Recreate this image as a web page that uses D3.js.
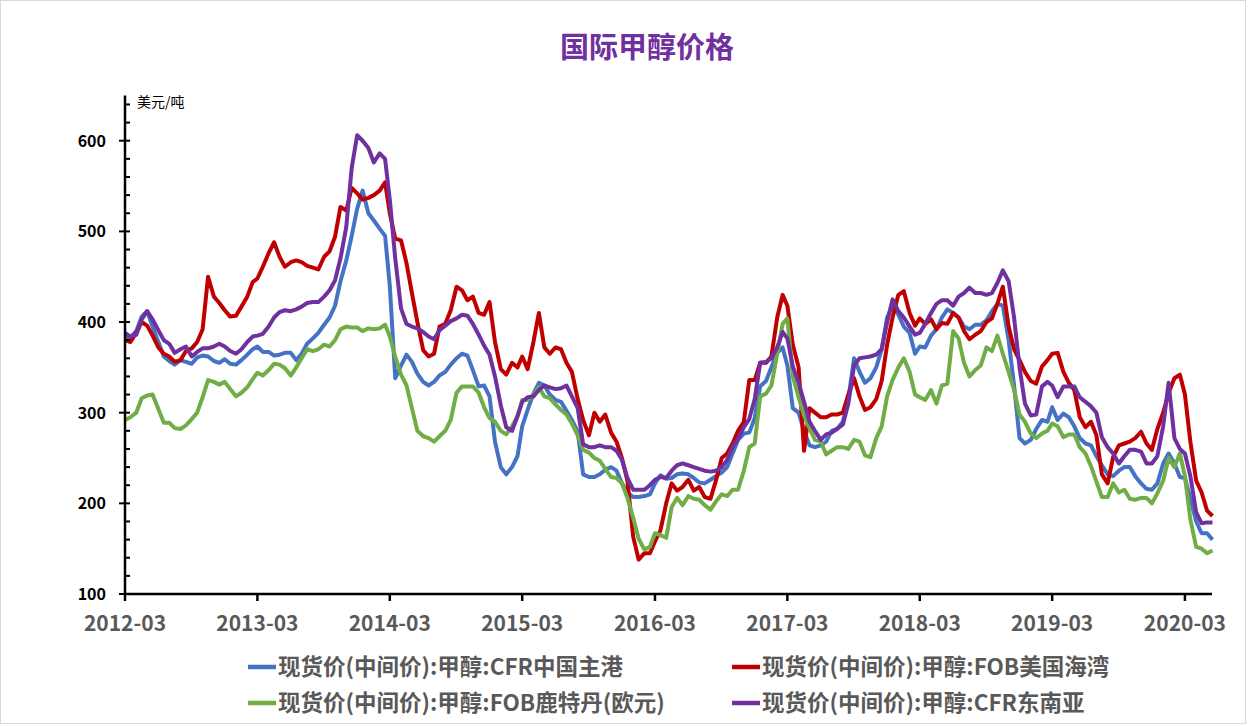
<!DOCTYPE html>
<html lang="zh">
<head>
<meta charset="UTF-8">
<title>国际甲醇价格</title>
<style>
  body, html { margin: 0; padding: 0; background: #fff; overflow: hidden; }
  svg { display: block; }
  text { font-family: "Noto Sans CJK SC", "Noto Sans", sans-serif; }
</style>
<script src="https://d3js.org/d3.v7.min.js"></script>
</head>
<body>
<div id="chart"></div>
<script>
// half-monthly observations, 2012-03-01 .. 2020-05-16
const startDate = new Date(2012, 2, 1);
const monthCount = 99;
const dates = [];
for (let m = 0; m < monthCount; m++) {
  dates.push(new Date(2012, 2 + m, 1));
  dates.push(new Date(2012, 2 + m, 16));
}

const cfrChina = [
  382,383,390,406,412,395,378,362,357,353,358,356,354,361,363,362,357,355,359,354,353,358,364,370,
  373,367,367,363,364,366,366,358,365,376,382,388,397,405,418,445,468,495,525,545,520,512,503,495,
  440,338,352,364,356,343,334,330,334,341,345,353,360,365,363,347,329,330,318,268,240,232,240,252,
  285,303,321,333,330,320,314,312,302,292,279,232,229,229,232,237,240,236,222,212,207,207,208,210,
  222,231,227,228,232,233,232,228,223,222,226,230,234,240,255,270,277,278,294,329,335,350,366,372,
  352,305,300,280,264,262,264,268,280,282,290,315,360,345,333,338,350,370,405,418,408,395,388,365,
  373,372,385,392,405,414,410,405,395,392,397,397,402,412,420,418,380,330,272,266,270,282,292,290,
  306,292,299,295,285,272,266,264,252,242,232,230,236,240,240,230,222,216,215,222,244,255,244,229,
  228,205,180,167,167,160
];
const fobUsGulf = [
  380,378,388,400,396,385,372,365,362,356,358,368,371,378,392,450,428,421,413,406,407,417,428,444,
  448,461,476,488,472,461,466,468,466,462,460,458,472,478,494,527,523,548,542,535,537,540,545,554,
  520,492,490,465,432,400,369,362,365,395,398,413,439,435,424,428,410,408,422,378,348,342,355,350,
  362,348,378,410,372,365,372,370,355,345,315,292,275,300,290,298,278,268,250,225,163,138,145,145,
  158,170,200,222,214,218,226,214,218,207,205,225,250,255,266,280,290,336,336,355,355,362,405,430,
  418,375,350,258,305,300,295,295,298,298,300,320,338,318,303,306,315,335,375,405,430,434,410,396,
  404,398,403,392,399,398,410,405,390,381,386,390,400,404,420,439,395,370,358,345,335,332,351,358,
  365,366,345,333,325,295,284,290,275,232,222,251,264,266,268,272,279,266,259,282,300,322,338,342,
  320,268,225,212,192,186
];
const fobRotterdam = [
  292,295,300,316,319,320,304,289,289,283,282,286,293,300,317,336,334,331,334,326,318,322,328,337,
  344,341,347,354,353,349,341,350,360,370,368,370,375,373,380,392,395,394,394,390,393,392,393,397,
  384,362,342,330,305,280,274,272,268,274,280,292,322,329,329,329,322,306,294,290,280,276,285,296,
  314,314,320,328,318,316,309,303,298,288,275,259,256,250,247,238,229,228,222,206,184,161,149,152,
  167,165,162,196,206,198,208,205,204,198,193,202,210,208,215,215,236,262,266,318,321,330,365,398,
  404,340,317,297,283,270,268,254,258,262,262,260,270,268,253,251,272,285,318,336,350,360,345,320,
  317,314,325,310,330,332,390,382,355,340,347,352,372,368,385,365,345,325,298,290,277,272,277,280,
  288,285,273,276,276,262,255,241,224,207,207,222,212,215,205,204,206,206,200,211,225,250,240,255,
  230,182,152,150,145,148
];
const cfrSeAsia = [
  388,384,386,403,412,403,391,380,376,366,370,373,362,367,371,371,373,376,373,368,365,370,378,384,
  385,387,395,405,411,413,412,414,417,421,422,422,428,435,446,470,505,570,606,600,592,576,586,580,
  535,470,415,398,395,393,389,384,381,391,396,401,404,408,407,398,386,374,364,340,308,284,280,296,
  312,317,318,325,330,328,326,327,330,318,305,265,262,262,264,262,262,258,248,228,215,215,215,220,
  226,229,228,236,242,244,242,240,238,236,235,236,240,248,262,271,284,293,315,355,356,360,372,389,
  382,351,333,312,290,280,270,276,278,282,287,310,352,360,361,362,364,370,400,425,412,405,395,386,
  388,398,410,420,424,424,418,428,432,438,432,432,430,432,443,457,445,405,350,310,297,298,329,334,
  330,317,329,329,329,317,312,307,300,273,262,255,244,252,259,259,257,244,244,252,285,333,272,260,
  255,230,190,178,179,179
];

const seriesNames = [
  "现货价(中间价):甲醇:CFR中国主港",
  "现货价(中间价):甲醇:FOB美国海湾",
  "现货价(中间价):甲醇:FOB鹿特丹(欧元)",
  "现货价(中间价):甲醇:CFR东南亚"
];
const seriesColors = ["#4472C4", "#C00000", "#70AD47", "#7030A0"];
const seriesValues = [cfrChina, fobUsGulf, fobRotterdam, cfrSeAsia];

const yMajorTicks = [100, 200, 300, 400, 500, 600];
const xTickLabels = ["2012-03","2013-03","2014-03","2015-03","2016-03","2017-03","2018-03","2019-03","2020-03"];

const width = 1248, height = 726;
const svg = d3.select("#chart").append("svg")
  .attr("width", width).attr("height", height);

svg.append("rect")
  .attr("x", 0.5).attr("y", 0.5)
  .attr("width", width - 3).attr("height", height - 3)
  .attr("fill", "#fff").attr("stroke", "#d9d9d9");

const x = d3.scaleTime()
  .domain([startDate, dates[dates.length - 1]])
  .range([125, 1212.5]);
const y = d3.scaleLinear().domain([100, 650]).range([594, 95.4]);

// title
svg.append("text")
  .attr("x", 647).attr("y", 58)
  .attr("text-anchor", "middle")
  .attr("font-size", 29).attr("font-weight", "bold")
  .attr("fill", "#7030A0")
  .text("国际甲醇价格");

svg.append("text")
  .attr("x", 137).attr("y", 107)
  .attr("font-size", 14)
  .attr("fill", "#000")
  .text("美元/吨");

// lines
const line = d3.line()
  .x((d, i) => x(dates[i]))
  .y(d => y(d));

seriesValues.forEach((vals, k) => {
  svg.append("path")
    .datum(vals)
    .attr("fill", "none")
    .attr("stroke", seriesColors[k])
    .attr("stroke-width", 4)
    .attr("stroke-linejoin", "round")
    .attr("d", line);
});

// y axis
const yMinor = d3.range(100, 650, 20).filter(v => v % 100 !== 0);
const gy = svg.append("g");
gy.append("line")
  .attr("x1", 125).attr("x2", 125)
  .attr("y1", y(650)).attr("y2", 595)
  .attr("stroke", "#000").attr("stroke-width", 2.5);
gy.selectAll(".minor").data(yMinor).enter().append("line")
  .attr("x1", 125).attr("x2", 130)
  .attr("y1", d => y(d)).attr("y2", d => y(d))
  .attr("stroke", "#000").attr("stroke-width", 2);
gy.selectAll(".major").data(yMajorTicks).enter().append("line")
  .attr("x1", 119).attr("x2", 130)
  .attr("y1", d => y(d)).attr("y2", d => y(d))
  .attr("stroke", "#000").attr("stroke-width", 2);
gy.selectAll(".lab").data(yMajorTicks).enter().append("text")
  .attr("x", 106).attr("y", d => y(d) + 6)
  .attr("text-anchor", "end")
  .attr("font-size", 16).attr("font-weight", "bold")
  .attr("fill", "#000")
  .text(d => d);

// x axis
const xTicks = xTickLabels.map(s => d3.timeParse("%Y-%m")(s));
const gx = svg.append("g");
gx.append("line")
  .attr("x1", 124).attr("x2", 1212)
  .attr("y1", 594).attr("y2", 594)
  .attr("stroke", "#000").attr("stroke-width", 2.5);
gx.selectAll(".tick").data(xTicks).enter().append("line")
  .attr("x1", d => x(d)).attr("x2", d => x(d))
  .attr("y1", 594).attr("y2", 601)
  .attr("stroke", "#000").attr("stroke-width", 2.5);
gx.selectAll(".lab").data(xTicks).enter().append("text")
  .attr("x", d => x(d)).attr("y", 631)
  .attr("text-anchor", "middle")
  .attr("font-size", 21).attr("font-weight", "bold")
  .attr("fill", "#595959")
  .text((d, i) => xTickLabels[i]);

// legend
const legendPos = [[248, 667], [732, 667], [248, 703], [732, 703]];
seriesNames.forEach((name, k) => {
  const [lx, ly] = legendPos[k];
  svg.append("line")
    .attr("x1", lx).attr("x2", lx + 28)
    .attr("y1", ly).attr("y2", ly)
    .attr("stroke", seriesColors[k]).attr("stroke-width", 4.5);
  svg.append("text")
    .attr("x", lx + 30).attr("y", ly + 7.5)
    .attr("font-size", 22.5).attr("font-weight", "bold")
    .attr("fill", "#595959")
    .text(name);
});
</script>
</body>
</html>
